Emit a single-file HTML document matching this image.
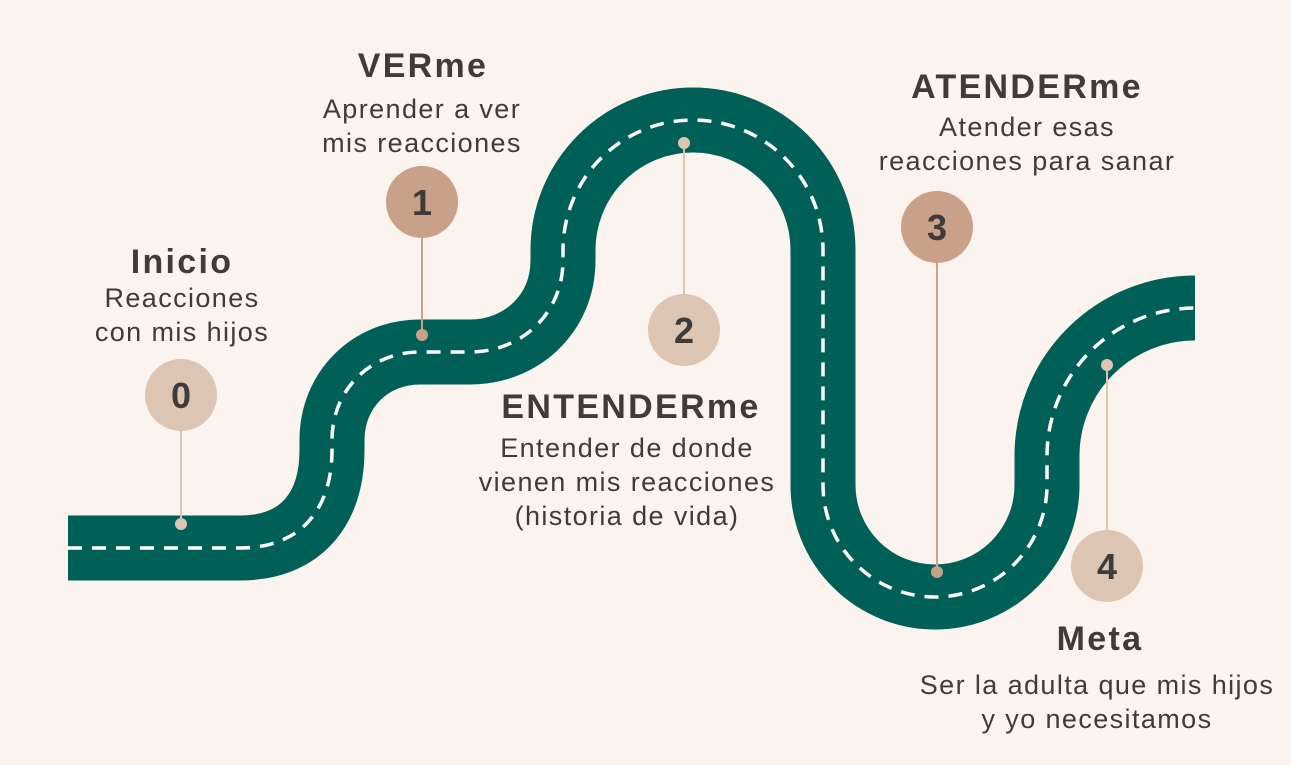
<!DOCTYPE html>
<html><head><meta charset="utf-8"><style>
html,body{margin:0;padding:0;}
body{width:1291px;height:765px;background:#fbf3ee;position:relative;overflow:hidden;font-family:"Liberation Sans",sans-serif;color:#3f3b39;}
.t{position:absolute;text-align:center;transform:translateX(-50%);white-space:nowrap;}
.h{font-weight:bold;font-size:34px;line-height:38px;letter-spacing:2.3px;}
.b{font-size:27px;line-height:34px;letter-spacing:1.4px;}
</style></head><body>
<svg width="1291" height="765" style="position:absolute;left:0;top:0">
<path d="M68,548 L240,548 C300,548 332,510 332,450 L332,440 C332,390 370,352 420,352 L470,352 C520,352 563,315 563,260 L563,250 A130,130 0 0 1 823,250 L823,485 A112,112 0 0 0 1047,485 L1047,456 A148,148 0 0 1 1195,308" fill="none" stroke="#005f56" stroke-width="65"/>
<path d="M68,548 L240,548 C300,548 332,510 332,450 L332,440 C332,390 370,352 420,352 L470,352 C520,352 563,315 563,260 L563,250 A130,130 0 0 1 823,250 L823,485 A112,112 0 0 0 1047,485 L1047,456 A148,148 0 0 1 1195,308" fill="none" stroke="#fff" stroke-width="3.5" stroke-dasharray="14,10"/>
<g stroke-width="2">
<line x1="181" y1="395" x2="181" y2="524" stroke="#dcc5b2"/>
<line x1="422" y1="202" x2="422" y2="335" stroke="#c9a088"/>
<line x1="684" y1="143" x2="684" y2="330" stroke="#dcc5b2"/>
<line x1="937" y1="227" x2="937" y2="572" stroke="#c9a088"/>
<line x1="1107" y1="365" x2="1107" y2="566" stroke="#dcc5b2"/>
</g>
<circle cx="181" cy="524" r="6" fill="#dcc5b2"/>
<circle cx="422" cy="335" r="6" fill="#c9a088"/>
<circle cx="684" cy="143" r="6" fill="#dcc5b2"/>
<circle cx="937" cy="572" r="6" fill="#c9a088"/>
<circle cx="1107" cy="365" r="6" fill="#dcc5b2"/>
<circle cx="181" cy="395" r="36" fill="#dcc5b2"/>
<circle cx="422" cy="202" r="36" fill="#c9a088"/>
<circle cx="684" cy="330" r="36" fill="#dcc5b2"/>
<circle cx="937" cy="227" r="36" fill="#c9a088"/>
<circle cx="1107" cy="566" r="36" fill="#dcc5b2"/>
<g font-family="Liberation Sans" font-size="36" font-weight="bold" fill="#3f3b39" text-anchor="middle">
<text x="181" y="408">0</text><text x="422" y="215">1</text><text x="684" y="343">2</text><text x="937" y="240">3</text><text x="1107" y="579">4</text>
</g>
</svg>
<div class="t h" style="left:182px;top:243px">Inicio</div>
<div class="t b" style="left:182px;top:281px">Reacciones<br>con mis hijos</div>
<div class="t h" style="left:423px;top:47px">VERme</div>
<div class="t b" style="left:422px;top:92px">Aprender a ver<br>mis reacciones</div>
<div class="t h" style="left:631px;top:388px">ENTENDERme</div>
<div class="t b" style="left:627px;top:431px">Entender de donde<br>vienen mis reacciones<br>(historia de vida)</div>
<div class="t h" style="left:1027px;top:68px">ATENDERme</div>
<div class="t b" style="left:1027px;top:110px">Atender esas<br>reacciones para sanar</div>
<div class="t h" style="left:1100px;top:620px">Meta</div>
<div class="t b" style="left:1097px;top:668px">Ser la adulta que mis hijos<br>y yo necesitamos</div>
</body></html>
